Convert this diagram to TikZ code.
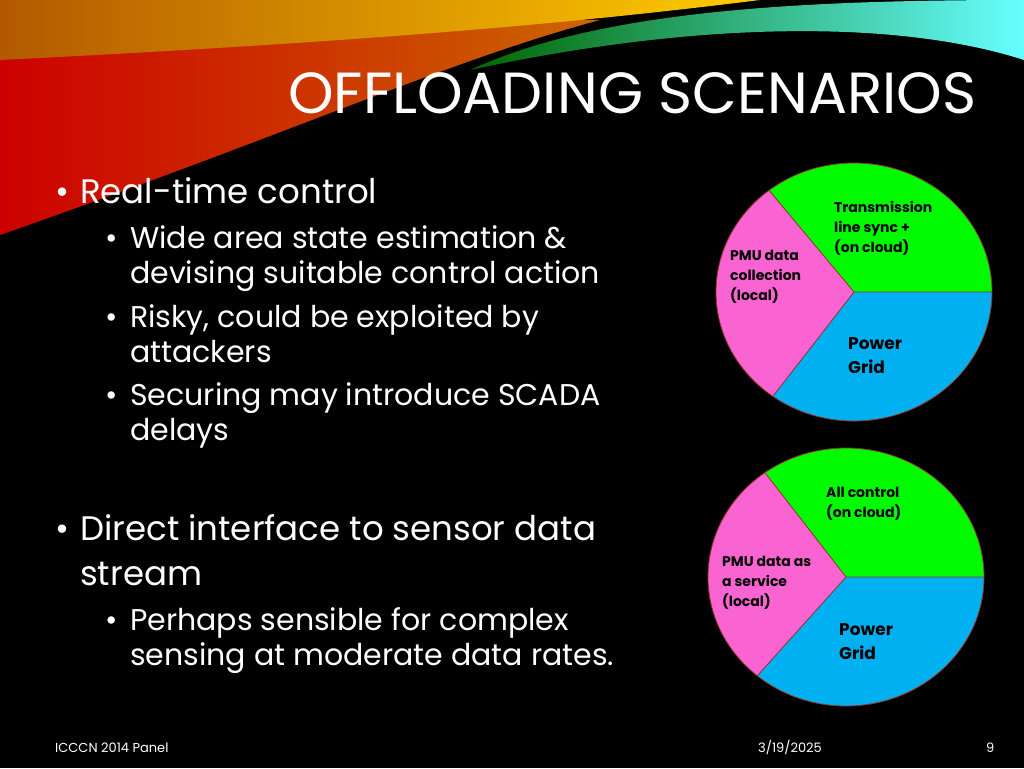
\documentclass[tikz,border=0pt]{standalone}
\usepackage{fontspec}
\setmainfont{Poppins}
\usetikzlibrary{positioning}
\definecolor{slgreen}{RGB}{0,250,0}
\definecolor{slpink}{RGB}{250,100,210}
\definecolor{slblue}{RGB}{0,176,240}
\definecolor{sledge}{RGB}{150,50,40}
\begin{document}
\begin{tikzpicture}
	  [
	    x = 1pt, y = -1pt,
	    every node/.style = {text=white, inner sep=0pt},
	    bulletA/.style    = {anchor=base west, font=\fontsize{34}{40}\selectfont},
	    bulletB/.style    = {anchor=base west, font=\fontsize{30}{35}\selectfont},
	    slice/.style      = {draw=sledge, line width=0.8pt},
	    slicetext/.style  = {text=black, align=left, anchor=north west,
	                         font=\fontsize{14}{20}\selectfont\bfseries},
	    gridtext/.style   = {text=black, align=left, anchor=north west,
	                         font=\fontsize{17}{24}\selectfont\bfseries},
	    foot/.style       = {anchor=base west, font=\fontsize{13}{15}\selectfont}
	  ]
		\fill[black] (0,0) rectangle (1024,768);
		\useasboundingbox (0,0) rectangle (1024,768);
		% swoosh at the top
		\shade[left color=red!80!black, right color=orange!80!black]
			(0,20) -- (600,20) .. controls (450,60) and (300,130) .. (0,235) -- cycle;
		\shade[left color=orange!70!black, right color=yellow!60!orange]
			(0,0) -- (760,0) .. controls (600,20) and (400,40) .. (0,60) -- cycle;
		\shade[left color=green!40!black, right color=cyan!60!white]
			(470,70) .. controls (600,10) and (800,0) .. (1024,0) -- (1024,60)
			.. controls (900,20) and (700,20) .. (470,70) -- cycle;
		% title
		\node[anchor=base west, font=\fontsize{58}{66}\selectfont] (title) at (288,113) {OFFLOADING SCENARIOS};
		% left column
		\node[bulletA] (b1)  at (55,203)  {•};
		\node[bulletA] (t1)  at (80,203)  {Real-time control};
		\node[bulletB] (s1)  at (105,248) {•};
		\node[bulletB] (u1)  at (130,248) {Wide area state estimation \&};
		\node[bulletB] (u1b) at (130,283) {devising suitable control action};
		\node[bulletB] (s2)  at (105,327) {•};
		\node[bulletB] (u2)  at (130,327) {Risky, could be exploited by};
		\node[bulletB] (u2b) at (130,362) {attackers};
		\node[bulletB] (s3)  at (105,405) {•};
		\node[bulletB] (u3)  at (130,405) {Securing may introduce SCADA};
		\node[bulletB] (u3b) at (130,440) {delays};
		\node[bulletA] (b2)  at (55,540)  {•};
		\node[bulletA] (t2)  at (80,540)  {Direct interface to sensor data};
		\node[bulletA] (t2b) at (80,585)  {stream};
		\node[bulletB] (s4)  at (105,630) {•};
		\node[bulletB] (u4)  at (130,630) {Perhaps sensible for complex};
		\node[bulletB] (u4b) at (130,665) {sensing at moderate data rates.};
		% upper pie
		\coordinate (c1) at (854,292);
		\fill[slgreen] (c1) -- ++(0:138 and 129) arc[start angle=0, end angle=-128, x radius=138, y radius=129] -- cycle;
		\fill[slpink] (c1) -- ++(-128:138 and 129) arc[start angle=-128, end angle=-234, x radius=138, y radius=129] -- cycle;
		\fill[slblue] (c1) -- ++(-234:138 and 129) arc[start angle=-234, end angle=-360, x radius=138, y radius=129] -- cycle;
		\draw[slice] (c1) -- ++(0:138 and 129) (c1) -- ++(-128:138 and 129) (c1) -- ++(-234:138 and 129);
		\draw[slice] (c1) ellipse [x radius=138, y radius=129];
		\node[slicetext] (trans) at (834,201) {Transmission\\line sync +\\(on cloud)};
		\node[slicetext] (pmu1)  at (730,250) {PMU data\\collection\\(local)};
		\node[gridtext]  (grid1) at (848,337) {Power\\Grid};
		% lower pie
		\coordinate (c2) at (846,577);
		\fill[slgreen] (c2) -- ++(0:138 and 129) arc[start angle=0, end angle=-126, x radius=138, y radius=129] -- cycle;
		\fill[slpink] (c2) -- ++(-126:138 and 129) arc[start angle=-126, end angle=-230, x radius=138, y radius=129] -- cycle;
		\fill[slblue] (c2) -- ++(-230:138 and 129) arc[start angle=-230, end angle=-360, x radius=138, y radius=129] -- cycle;
		\draw[slice] (c2) -- ++(0:138 and 129) (c2) -- ++(-126:138 and 129) (c2) -- ++(-230:138 and 129);
		\draw[slice] (c2) ellipse [x radius=138, y radius=129];
		\node[slicetext] (ctrl)  at (826,487) {All control\\(on cloud)};
		\node[slicetext] (pmu2)  at (722,556) {PMU data as\\a service\\(local)};
		\node[gridtext]  (grid2) at (839,623) {Power\\Grid};
		% footer
		\node[foot] (conf) at (55,752)  {ICCCN 2014 Panel};
		\node[foot] (date) at (758,752) {3/19/2025};
		\node[foot] (page) at (986,752) {9};
\end{tikzpicture}
\end{document}
